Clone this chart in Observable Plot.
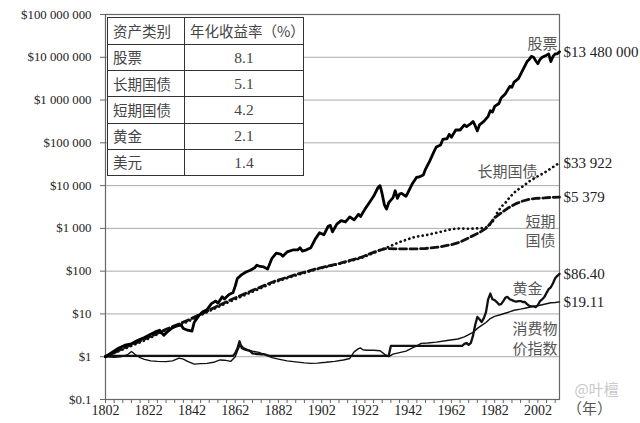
<!DOCTYPE html>
<html>
<head>
<meta charset="utf-8">
<script src="https://cdn.jsdelivr.net/npm/d3@7"></script>
<script src="https://cdn.jsdelivr.net/npm/@observablehq/plot@0.6"></script>
<style>
  html, body { margin: 0; padding: 0; background: #fff; }
  #wrap { position: relative; width: 640px; height: 423px; overflow: hidden; }
  #tbl { position: absolute; left: 107px; top: 17px; border-collapse: collapse; background: #fff;
         font-family: "Noto Sans CJK SC", sans-serif; font-size: 14.5px; color: #444; }
  #tbl td { border: 1.6px solid #333; padding: 0 5px; line-height: 1; }
  #tbl td.num { text-align: center; font-family: "Liberation Serif", serif; font-size: 15.5px; }
</style>
</head>
<body>
<div id="wrap"></div>
<script>
// ---------- data ----------
const tableHeader = ["资产类别", "年化收益率（%）"];
const assetNames = ["股票", "长期国债", "短期国债", "黄金", "美元"];
const annualReturns = ["8.1", "5.1", "4.2", "2.1", "1.4"];

const yTicks = [0.1, 1, 10, 100, 1000, 10000, 100000, 1000000, 10000000, 100000000];
const xLabelYears = [1802, 1822, 1842, 1862, 1882, 1902, 1922, 1942, 1962, 1982, 2002];

const stockYears = [1802,1805,1808,1811,1814,1817,1820,1822,1825,1827,1829,1831,1833,1835,1837,1838,1840,1842,1843,1845,1847,1849,1851,1853,1854,1856,1857,1859,1861,1862,1863,1865,1867,1869,1871,1872,1873,1875,1877,1879,1881,1883,1884,1886,1889,1891,1892,1893,1895,1897,1899,1901,1903,1905,1906,1907,1909,1911,1913,1915,1917,1919,1920,1922,1924,1926,1928,1929,1930,1931,1932,1933,1935,1936,1937,1938,1939,1940,1941,1942,1944,1946,1947,1949,1950,1952,1954,1955,1957,1958,1960,1961,1962,1964,1966,1968,1969,1971,1972,1973,1974,1975,1977,1979,1980,1981,1982,1984,1985,1987,1989,1990,1991,1993,1995,1997,1998,1999,2000,2001,2002,2003,2004,2006,2007,2008,2009,2010,2011,2012];
const stockValues = [1,1.26,1.58,1.86,2.0,2.43,2.82,3.16,3.8,4.17,3.16,3.98,4.79,5.25,5.5,4.57,4.17,3.98,6.3,8.9,11.2,12.6,17.4,20,17.8,25.1,22.4,28.2,31.6,44.7,67.6,83.2,95.5,105,120,138,132,126,112,200,263,251,224,282,316,316,355,295,316,355,562,794,708,1122,1175,832,1259,1514,1413,1862,1585,2138,1905,2818,3981,5623,8913,10000,6310,3548,2818,3981,5248,7586,5012,6310,6607,6026,5623,7079,11220,15850,15850,17780,23990,38020,63100,79430,89130,120200,125900,158500,134900,199500,199500,263000,239900,281800,316200,251200,190500,263000,316200,416900,562300,524800,707900,831800,1122000,1413000,2089000,1995000,2630000,3162000,5012000,7943000,8913000,10470000,10000000,8318000,7079000,8913000,10000000,11220000,12020000,7943000,10470000,12020000,12020000,13480000];

const bondYears = [1802,1810,1820,1830,1840,1850,1860,1870,1880,1890,1900,1910,1920,1928,1932,1938,1945,1950,1957,1962,1966,1970,1975,1978,1980,1981,1983,1985,1987,1989,1992,1995,1998,2002,2005,2008,2010,2012];
const bondValues = [1,1.48,2.4,4.17,6.6,11.7,20,33.1,55,79.4,112,148,200,295,355,479,631,692,832,955,1000,980,1000,1050,1250,1400,2239,3162,3981,5370,7586,9550,12590,16600,19950,25120,29510,33922];

const billYears = [1802,1810,1820,1830,1840,1850,1860,1870,1880,1890,1900,1910,1920,1928,1932,1938,1945,1950,1957,1962,1966,1970,1975,1978,1980,1982,1985,1988,1992,1995,1998,2001,2005,2008,2012];
const billValues = [1,1.55,2.57,4.37,7.08,12.3,21.4,35.5,57.5,83.2,115,151,209,302,339,331,331,339,372,417,479,603,800,1000,1300,1778,2291,2951,3802,4365,4786,5012,5150,5300,5379];

const goldYears = [1802,1861,1862,1863,1864,1865,1866,1867,1868,1869,1870,1871,1872,1873,1874,1875,1876,1877,1878,1933,1934,1967,1968,1969,1970,1971,1972,1973,1974,1975,1976,1977,1978,1979,1980,1981,1982,1983,1984,1985,1986,1987,1988,1989,1990,1991,1992,1993,1994,1995,1996,1997,1998,1999,2000,2001,2002,2003,2004,2005,2006,2007,2008,2009,2010,2011,2012];
const goldValues = [1.05,1.05,1.2,1.55,2.3,1.6,1.5,1.45,1.4,1.35,1.2,1.18,1.15,1.15,1.13,1.15,1.12,1.07,1.05,1.05,1.8,1.8,2.0,2.1,1.9,2.1,3.1,5.5,8.5,7.5,6.5,8,11,22,30,22,21,19,16.5,17,20,24,25,22,21,20,19.5,20,20,19,19,17,15.5,15,15,14.5,16,20,22,25,31,38,42,52,68,78,86.40];

const cpiYears = [1802,1806,1809,1812,1814,1816,1818,1820,1823,1826,1830,1833,1836,1838,1840,1843,1846,1849,1852,1855,1857,1860,1862,1863,1864,1865,1866,1868,1870,1873,1876,1879,1882,1886,1890,1894,1897,1900,1904,1908,1912,1915,1917,1919,1920,1921,1923,1926,1929,1931,1933,1935,1938,1941,1944,1946,1948,1951,1955,1960,1965,1968,1970,1972,1974,1976,1978,1980,1982,1985,1988,1991,1994,1997,2000,2003,2006,2008,2010,2012];
const cpiValues = [1.0,0.97,1.0,1.1,1.33,1.1,0.95,0.87,0.8,0.78,0.77,0.8,0.93,0.88,0.78,0.67,0.69,0.7,0.74,0.84,0.83,0.78,1.0,1.35,1.75,1.8,1.6,1.45,1.35,1.26,1.1,0.95,0.88,0.8,0.76,0.72,0.7,0.71,0.74,0.78,0.84,0.91,1.3,1.55,1.6,1.45,1.42,1.42,1.38,1.15,1.0,1.15,1.25,1.35,1.6,1.8,2.05,2.1,2.2,2.4,2.6,2.9,3.3,3.7,4.6,5.4,6.3,7.8,8.8,9.7,10.8,12.2,13.0,14.0,15.0,16.0,17.3,18.3,18.5,19.11];

const seriesNames = ["股票", "长期国债", "短期\n国债", "黄金", "消费物\n价指数"];
const yearUnit = "（年）";
const watermark = "@叶檀";

// ---------- helpers ----------
const pts = (ys, vs) => ys.map((year, i) => ({year, value: vs[i]}));
const stocks = pts(stockYears, stockValues);
const bonds = pts(bondYears, bondValues);
const bills = pts(billYears, billValues);
const gold = pts(goldYears, goldValues);
const cpi = pts(cpiYears, cpiValues);
const last = a => [a[a.length - 1]];

const groupSpace = v => d3.format(",")(v).replace(/,/g, " ");
const fmtTick = v => v < 1 ? "$" + v : "$" + groupSpace(v);
const fmtEnd = v => v >= 1000 ? "$" + groupSpace(v) : "$" + v.toFixed(2);

const xTicks = d3.range(1802, 2012, 4);
const serif = "Liberation Serif, serif";
const cjk = "Noto Sans CJK SC, sans-serif";

const endLabel = (arr) => Plot.text(last(arr), {
  x: "year", y: "value", text: d => fmtEnd(d.value),
  dx: 4, textAnchor: "start", fontSize: 15, fontFamily: serif, fill: "#222"
});
const nameLabel = (arr, name, dx, dy) => Plot.text(last(arr), {
  x: "year", y: "value", text: () => name,
  dx, dy, textAnchor: "end", fontSize: 15, fontFamily: cjk, fill: "#555", lineHeight: 1.27
});

const chart = Plot.plot({
  width: 640, height: 423,
  marginLeft: 105, marginRight: 81, marginTop: 14, marginBottom: 24,
  x: {domain: [1802, 2012], label: null},
  y: {type: "log", domain: [0.1, 1e8], label: null},
  style: {fontFamily: serif, background: "#fff", color: "#222", overflow: "visible"},
  marks: [
    Plot.ruleY(yTicks, {stroke: "#aaa", strokeWidth: 1}),
    Plot.frame({stroke: "#666", strokeWidth: 1.2}),
    Plot.axisY({ticks: yTicks, tickFormat: fmtTick, tickSize: 5, tickPadding: 9,
                fontSize: 12.8, stroke: "#666", label: null}),
    Plot.axisX({ticks: xTicks, tickFormat: d => xLabelYears.includes(d) ? String(d) : "",
                tickSize: 4, tickPadding: 2, fontSize: 14, stroke: "#666", label: null}),
    Plot.line(cpi, {x: "year", y: "value", stroke: "#111", strokeWidth: 1.4}),
    Plot.line(gold, {x: "year", y: "value", stroke: "#111", strokeWidth: 2.3}),
    Plot.line(bills, {x: "year", y: "value", stroke: "#111", strokeWidth: 2.8, strokeDasharray: "7 3.5"}),
    Plot.line(bonds, {x: "year", y: "value", stroke: "#111", strokeWidth: 2.7, strokeDasharray: "0.1 4.5", strokeLinecap: "round"}),
    Plot.line(stocks, {x: "year", y: "value", stroke: "#000", strokeWidth: 2.8, strokeLinejoin: "round"}),
    endLabel(stocks), endLabel(bonds), endLabel(bills), endLabel(gold), endLabel(cpi),
    nameLabel(stocks, seriesNames[0], -2, -9),
    nameLabel(bonds, seriesNames[1], -22, 8),
    nameLabel(bills, seriesNames[2], -4, 33),
    nameLabel(gold, seriesNames[3], -17, 14),
    nameLabel(cpi, seriesNames[4], -2, 36),
    Plot.text([yearUnit], {frameAnchor: "bottom-right", text: d => d, dx: 30, dy: 14, textAnchor: "middle",
                           fontSize: 15, fontFamily: cjk, fill: "#555"}),
    Plot.text([watermark], {frameAnchor: "bottom-right", text: d => d, dx: 15, dy: -5, textAnchor: "start",
                            fontSize: 15, fontFamily: cjk, fill: "#c8c8c8"})
  ]
});

const wrap = document.getElementById("wrap");
wrap.appendChild(chart);

// table
const tbl = document.createElement("table");
tbl.id = "tbl";
const rows = [[tableHeader[0], tableHeader[1], true], ...assetNames.map((n, i) => [n, annualReturns[i], false])];
rows.forEach(([a, b, head], i) => {
  const tr = document.createElement("tr");
  tr.style.height = (i === 0 ? 27 : 26.2) + "px";
  const td1 = document.createElement("td");
  td1.textContent = a; td1.style.width = "66px";
  const td2 = document.createElement("td");
  td2.textContent = b; td2.style.width = "108px";
  if (!head) td2.className = "num";
  tr.appendChild(td1); tr.appendChild(td2);
  tbl.appendChild(tr);
});
wrap.appendChild(tbl);
</script>
</body>
</html>
